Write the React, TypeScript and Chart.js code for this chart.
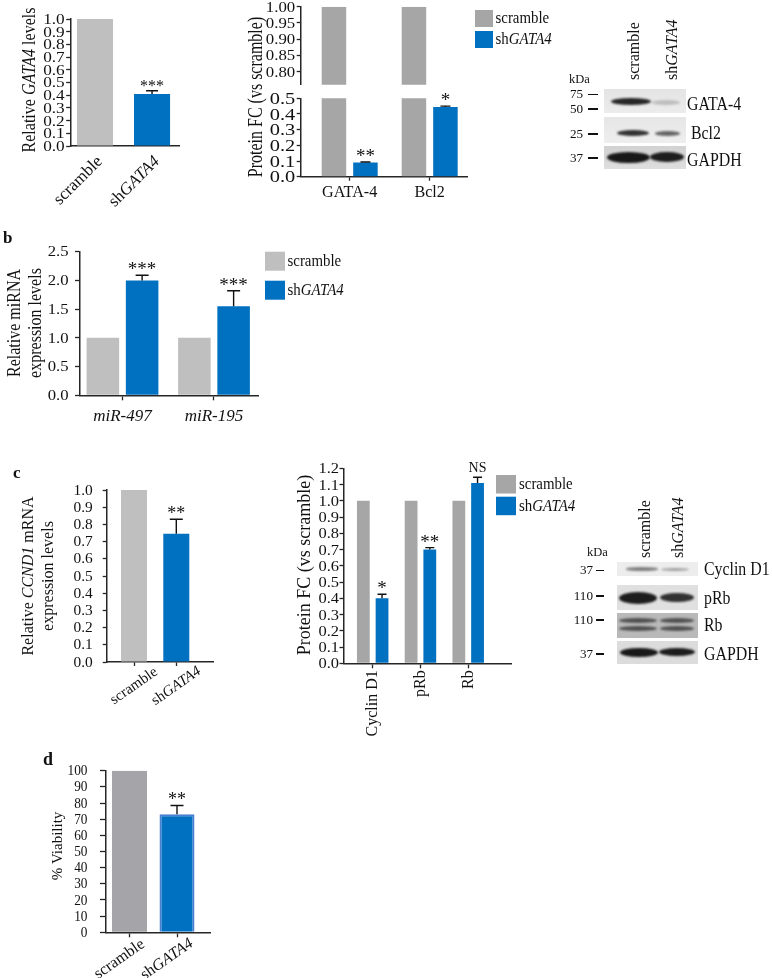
import React, { useEffect, useRef } from "react";
import { Chart, registerables } from "chart.js";

Chart.register(...registerables);

const W = 772;
const H = 978;
const SERIF = '"Liberation Serif", "Times New Roman", Times, serif';
const INK = "#111111";
const AXIS = "#262626";
const BLUE = "#0070C0";
const GRAY_L = "#BFBFBF";
const GRAY_M = "#A6A6A6";
const GRAY_D = "#A4A4A9";

// ---------------- data ----------------
// a (left): relative GATA4 mRNA
const a1Categories = ["scramble", "sh*GATA4*"];
const a1Values = [1.0, 0.41];
const a1Errors = [0, 0.025];
const a1Sig = ["", "***"];
const a1YTicks = [0, 0.1, 0.2, 0.3, 0.4, 0.5, 0.6, 0.7, 0.8, 0.9, 1.0];

// a (middle): protein fold change, broken axis
const a2Categories = ["GATA-4", "Bcl2"];
const a2Scramble = [1.0, 1.0];
const a2ShGATA4 = [0.09, 0.445];
const a2ShErrors = [0.004, 0.005];
const a2Sig = ["**", "*"];
const a2UpperTicks = [0.8, 0.85, 0.9, 0.95, 1.0];
const a2LowerTicks = [0, 0.1, 0.2, 0.3, 0.4, 0.5];

// b: miRNA expression
const bCategories = ["*miR-497*", "*miR-195*"];
const bScramble = [1.0, 1.0];
const bShGATA4 = [2.0, 1.55];
const bShErrors = [0.09, 0.27];
const bSig = ["***", "***"];
const bYTicks = [0, 0.5, 1.0, 1.5, 2.0, 2.5];

// c (left): CCND1 mRNA
const c1Categories = ["scramble", "sh*GATA4*"];
const c1Values = [1.0, 0.745];
const c1Errors = [0, 0.085];
const c1Sig = ["", "**"];
const c1YTicks = [0, 0.1, 0.2, 0.3, 0.4, 0.5, 0.6, 0.7, 0.8, 0.9, 1.0];

// c (middle): protein fold change
const c2Categories = ["Cyclin D1", "pRb", "Rb"];
const c2Scramble = [1.0, 1.0, 1.0];
const c2ShGATA4 = [0.4, 0.7, 1.11];
const c2ShErrors = [0.025, 0.012, 0.035];
const c2Sig = ["*", "**", "NS"];
const c2YTicks = [0, 0.1, 0.2, 0.3, 0.4, 0.5, 0.6, 0.7, 0.8, 0.9, 1.0, 1.1, 1.2];

// d: viability
const dCategories = ["scramble", "sh*GATA4*"];
const dValues = [100, 73];
const dErrors = [0, 5.5];
const dSig = ["", "**"];
const dYTicks = [0, 10, 20, 30, 40, 50, 60, 70, 80, 90, 100];

const legendLabels = ["scramble", "sh*GATA4*"];

// western blots (band intensity per lane: scramble, shGATA4)
const aBlotLanes = ["scramble", "sh*GATA4*"];
const aBlotProteins = ["GATA-4", "Bcl2", "GAPDH"];
const aBlotMarkers = [["75", "50"], ["25"], ["37"]];
const aBlotIntensity = [
  [0.9, 0.2],
  [0.85, 0.62],
  [0.97, 0.94],
];

const cBlotLanes = ["scramble", "sh*GATA4*"];
const cBlotProteins = ["Cyclin D1", "pRb", "Rb", "GAPDH"];
const cBlotMarkers = [["37"], ["110"], ["110"], ["37"]];
const cBlotIntensity = [
  [0.5, 0.35],
  [0.95, 0.85],
  [0.62, 0.62],
  [0.97, 0.95],
];

// ---------------- text helpers ----------------
type TextOpt = {
  size: number;
  align?: "left" | "center" | "right";
  base?: CanvasTextBaseline;
  rot?: number;
  sx?: number;
  bold?: boolean;
  plain?: boolean;
  color?: string;
  off?: number;
};

function segs(text: string, plain?: boolean) {
  if (plain) return [{ t: text, it: false }];
  return text
    .split("*")
    .map((t, i) => ({ t, it: i % 2 === 1 }))
    .filter((p) => p.t.length > 0);
}

function drawText(ctx: CanvasRenderingContext2D, text: string, x: number, y: number, o: TextOpt) {
  const parts = segs(text, o.plain);
  const font = (it: boolean) => `${it ? "italic " : ""}${o.bold ? "bold " : ""}${o.size}px ${SERIF}`;
  ctx.save();
  ctx.translate(x, y);
  ctx.scale(o.sx ?? 1, 1);
  if (o.rot) ctx.rotate((o.rot * Math.PI) / 180);
  ctx.fillStyle = o.color ?? INK;
  ctx.textBaseline = o.base ?? "alphabetic";
  ctx.textAlign = "left";
  const ws = parts.map((p) => {
    ctx.font = font(p.it);
    return ctx.measureText(p.t).width;
  });
  const total = ws.reduce((a, b) => a + b, 0);
  let cx = o.align === "center" ? -total / 2 : o.align === "right" ? -total : 0;
  parts.forEach((p, i) => {
    ctx.font = font(p.it);
    ctx.fillText(p.t, cx, o.off ?? 0);
    cx += ws[i];
  });
  ctx.restore();
}

// ---------------- chart specs ----------------
type DS = {
  data: number[];
  color: string | string[];
  border?: string | string[];
  bw?: number | number[];
  err?: number[];
  sig?: string[];
};

type Spec = {
  area: { l: number; t: number; r: number; b: number };
  xMin: number;
  xMax: number;
  cats: string[];
  catLab?: { size: number; sx?: number; rot?: number; align: "left" | "center" | "right"; dx?: number; dy: number; base: CanvasTextBaseline };
  xTickLen: number;
  xAxis: boolean;
  yMin: number;
  yMax: number;
  yTicks: number[];
  yFmt: (v: number) => string;
  yLab: { size: number; sx: number; pad: number };
  yTickLen: number;
  yTitle?: { lines: string[]; x: number; y: number; size: number; sx: number; gap: number };
  ds: DS[];
  catPct: number;
  barPct: number;
  sigSize: number;
  capW: number;
  marks: boolean;
  legend?: { x: number; y: number; w: number; h: number; step: number; tx: number; size: number; sx: number; items: { label: string; color: string }[] };
};

function decorPlugin(s: Spec) {
  return {
    id: "decor",
    afterDatasetsDraw(chart: any) {
      if (!s.marks) return;
      const ctx = chart.ctx as CanvasRenderingContext2D;
      const ys = chart.scales.y;
      s.ds.forEach((d, i) => {
        const meta = chart.getDatasetMeta(i);
        meta.data.forEach((bar: any, j: number) => {
          const e = d.err ? d.err[j] : 0;
          const top = ys.getPixelForValue(d.data[j] + e);
          if (e > 0) {
            ctx.save();
            ctx.strokeStyle = INK;
            ctx.lineWidth = 1.4;
            ctx.beginPath();
            ctx.moveTo(bar.x, bar.y);
            ctx.lineTo(bar.x, top);
            ctx.moveTo(bar.x - s.capW / 2, top);
            ctx.lineTo(bar.x + s.capW / 2, top);
            ctx.stroke();
            ctx.restore();
          }
          const sg = d.sig ? d.sig[j] : "";
          if (sg) {
            const star = /^\*+$/.test(sg);
            drawText(ctx, sg, bar.x, top - (star ? 0 : 5), {
              size: star ? s.sigSize : 14,
              align: "center",
              plain: true,
            });
          }
        });
      });
    },
    afterDraw(chart: any) {
      const ctx = chart.ctx as CanvasRenderingContext2D;
      const xs = chart.scales.x;
      const ys = chart.scales.y;
      const a = chart.chartArea;
      s.yTicks.forEach((v) =>
        drawText(ctx, s.yFmt(v), a.left - s.yTickLen - s.yLab.pad, ys.getPixelForValue(v) + s.yLab.size * 0.33, {
          size: s.yLab.size,
          sx: s.yLab.sx,
          align: "right",
          plain: true,
        })
      );
      if (s.catLab) {
        const L = s.catLab;
        s.cats.forEach((c, i) =>
          drawText(ctx, c, xs.getPixelForValue(i) + (L.dx ?? 0), a.bottom + L.dy, {
            size: L.size,
            sx: L.sx,
            rot: L.rot,
            align: L.align,
            base: L.base,
          })
        );
      }
      if (s.yTitle) {
        const T = s.yTitle;
        T.lines.forEach((ln, k) =>
          drawText(ctx, ln, T.x, T.y, {
            size: T.size,
            sx: T.sx,
            rot: -90,
            align: "center",
            base: "middle",
            off: (k - (T.lines.length - 1) / 2) * T.gap,
          })
        );
      }
      if (s.legend) {
        const L = s.legend;
        L.items.forEach((it, k) => {
          const y0 = L.y + k * L.step;
          ctx.fillStyle = it.color;
          ctx.fillRect(L.x, y0, L.w, L.h);
          drawText(ctx, it.label, L.x + L.w + L.tx, y0 + L.h / 2 + L.size * 0.3, { size: L.size, sx: L.sx });
        });
      }
    },
  };
}

function buildConfig(s: Spec): any {
  const pad = { left: s.area.l, top: s.area.t, right: W - s.area.r, bottom: H - s.area.b };
  return {
    type: "bar",
    data: {
      datasets: s.ds.map((d) => ({
        data: d.data.map((v, i) => ({ x: i, y: v })),
        backgroundColor: d.color,
        borderColor: d.border ?? "rgba(0,0,0,0)",
        borderWidth: d.bw ?? 0,
        categoryPercentage: s.catPct,
        barPercentage: s.barPct,
      })),
    },
    options: {
      responsive: false,
      animation: false,
      devicePixelRatio: 1,
      events: [],
      layout: { padding: pad },
      plugins: { legend: { display: false }, tooltip: { enabled: false }, title: { display: false } },
      scales: {
        x: {
          type: "linear",
          bounds: "data",
          offset: false,
          min: s.xMin,
          max: s.xMax,
          afterBuildTicks: (sc: any) => {
            sc.ticks = s.cats.map((_, i) => ({ value: i }));
          },
          afterFit: (sc: any) => {
            sc.height = 0;
          },
          ticks: { display: false },
          grid: {
            offset: false,
            drawOnChartArea: false,
            drawTicks: s.xTickLen > 0,
            tickLength: s.xTickLen,
            tickColor: AXIS,
            tickWidth: 1.3,
            color: AXIS,
          },
          border: { display: s.xAxis, color: AXIS, width: 1.5 },
        },
        y: {
          type: "linear",
          bounds: "data",
          min: s.yMin,
          max: s.yMax,
          afterBuildTicks: (sc: any) => {
            sc.ticks = s.yTicks.map((v) => ({ value: v }));
          },
          afterFit: (sc: any) => {
            sc.width = 0;
          },
          ticks: { display: false },
          grid: {
            drawOnChartArea: false,
            drawTicks: true,
            tickLength: s.yTickLen,
            tickColor: AXIS,
            tickWidth: 1.3,
            color: AXIS,
          },
          border: { color: AXIS, width: 1.5 },
        },
      },
    },
    plugins: [decorPlugin(s)],
  };
}

const f1 = (v: number) => v.toFixed(1);

const specs: Spec[] = [
  // a - left
  {
    area: { l: 70.7, t: 19, r: 180, b: 146 },
    xMin: -0.426,
    xMax: 1.49,
    cats: a1Categories,
    catLab: { size: 17, rot: -45, align: "right", dx: 5, dy: 13, base: "middle" },
    xTickLen: 0,
    xAxis: true,
    yMin: 0,
    yMax: 1,
    yTicks: a1YTicks,
    yFmt: f1,
    yLab: { size: 15, sx: 1.15, pad: 1.5 },
    yTickLen: 4.5,
    yTitle: { lines: ["Relative *GATA4* levels"], x: 30, y: 80, size: 16, sx: 1.15, gap: 0 },
    ds: [{ data: a1Values, color: [GRAY_L, BLUE], err: a1Errors, sig: a1Sig }],
    catPct: 1,
    barPct: 0.632,
    sigSize: 16,
    capW: 12,
    marks: true,
  },
  // a - middle, upper segment
  {
    area: { l: 300.7, t: 6.7, r: 468, b: 84.7 },
    xMin: -0.6125,
    xMax: 1.479,
    cats: a2Categories,
    xTickLen: 0,
    xAxis: false,
    yMin: 0.76,
    yMax: 1.0,
    yTicks: a2UpperTicks,
    yFmt: (v) => v.toFixed(2),
    yLab: { size: 15, sx: 1.12, pad: 1.5 },
    yTickLen: 4,
    ds: [
      { data: a2Scramble, color: GRAY_M },
      { data: a2ShGATA4, color: BLUE },
    ],
    catPct: 0.7875,
    barPct: 0.778,
    sigSize: 18,
    capW: 10,
    marks: false,
    legend: {
      x: 475,
      y: 10,
      w: 18,
      h: 17,
      step: 21,
      tx: 2.5,
      size: 16,
      sx: 0.93,
      items: [
        { label: legendLabels[0], color: GRAY_M },
        { label: legendLabels[1], color: BLUE },
      ],
    },
  },
  // a - middle, lower segment
  {
    area: { l: 300.7, t: 98.3, r: 468, b: 176.7 },
    xMin: -0.6125,
    xMax: 1.479,
    cats: a2Categories,
    catLab: { size: 17, sx: 0.95, rot: 0, align: "center", dy: 20, base: "alphabetic" },
    xTickLen: 4,
    xAxis: true,
    yMin: 0,
    yMax: 0.5,
    yTicks: a2LowerTicks,
    yFmt: f1,
    yLab: { size: 17, sx: 1.2, pad: 1.5 },
    yTickLen: 4,
    yTitle: { lines: ["Protein FC (vs scramble)"], x: 256.7, y: 97, size: 16, sx: 1.25, gap: 0 },
    ds: [
      { data: a2Scramble, color: GRAY_M },
      { data: a2ShGATA4, color: BLUE, err: a2ShErrors, sig: a2Sig },
    ],
    catPct: 0.7875,
    barPct: 0.778,
    sigSize: 19,
    capW: 10,
    marks: true,
  },
  // b
  {
    area: { l: 80, t: 251.7, r: 258, b: 395.3 },
    xMin: -0.4645,
    xMax: 1.481,
    cats: bCategories,
    catLab: { size: 17, rot: 0, align: "center", dy: 26, base: "alphabetic" },
    xTickLen: 5,
    xAxis: true,
    yMin: 0,
    yMax: 2.5,
    yTicks: bYTicks,
    yFmt: f1,
    yLab: { size: 14.5, sx: 1.15, pad: 6.5 },
    yTickLen: 5,
    yTitle: { lines: ["Relative miRNA", "expression levels"], x: 25.5, y: 323, size: 16, sx: 1.15, gap: 18 },
    ds: [
      { data: bScramble, color: GRAY_L },
      { data: bShGATA4, color: BLUE, err: bShErrors, sig: bSig },
    ],
    catPct: 0.858,
    barPct: 0.829,
    sigSize: 19,
    capW: 13,
    marks: true,
    legend: {
      x: 265,
      y: 251.7,
      w: 20,
      h: 19,
      step: 29,
      tx: 2.5,
      size: 16,
      sx: 0.93,
      items: [
        { label: legendLabels[0], color: GRAY_L },
        { label: legendLabels[1], color: BLUE },
      ],
    },
  },
  // c - left
  {
    area: { l: 106.7, t: 490, r: 213.3, b: 662 },
    xMin: -0.6454,
    xMax: 1.8747,
    cats: c1Categories,
    catLab: { size: 15, rot: -35, align: "center", dy: 24, base: "middle" },
    xTickLen: 4,
    xAxis: true,
    yMin: 0,
    yMax: 1,
    yTicks: c1YTicks,
    yFmt: f1,
    yLab: { size: 14, sx: 1.1, pad: 10 },
    yTickLen: 4,
    yTitle: { lines: ["Relative *CCND1* mRNA", "expression levels"], x: 38.5, y: 576, size: 16, sx: 1.1, gap: 17.5 },
    ds: [{ data: c1Values, color: [GRAY_L, BLUE], err: c1Errors, sig: c1Sig }],
    catPct: 1,
    barPct: 0.615,
    sigSize: 18,
    capW: 13,
    marks: true,
  },
  // c - middle
  {
    area: { l: 344, t: 468.3, r: 511.7, b: 663.3 },
    xMin: -0.601,
    xMax: 2.911,
    cats: c2Categories,
    catLab: { size: 16, sx: 1.1, rot: -90, align: "right", dy: 7, base: "middle" },
    xTickLen: 5,
    xAxis: true,
    yMin: 0,
    yMax: 1.2,
    yTicks: c2YTicks,
    yFmt: f1,
    yLab: { size: 15, sx: 1.1, pad: 0.5 },
    yTickLen: 4.5,
    yTitle: { lines: ["Protein FC (vs scramble)"], x: 305, y: 565, size: 18, sx: 1.05, gap: 0 },
    ds: [
      { data: c2Scramble, color: GRAY_M },
      { data: c2ShGATA4, color: BLUE, err: c2ShErrors, sig: c2Sig },
    ],
    catPct: 0.783,
    barPct: 0.684,
    sigSize: 19,
    capW: 9,
    marks: true,
    legend: {
      x: 496,
      y: 475,
      w: 20,
      h: 18.5,
      step: 21.7,
      tx: 3,
      size: 16,
      sx: 0.93,
      items: [
        { label: legendLabels[0], color: GRAY_M },
        { label: legendLabels[1], color: BLUE },
      ],
    },
  },
  // d
  {
    area: { l: 106, t: 770.7, r: 210, b: 932.3 },
    xMin: -0.4947,
    xMax: 1.6947,
    cats: dCategories,
    catLab: { size: 16, rot: -35, align: "center", dx: -10, dy: 27, base: "middle" },
    xTickLen: 5,
    xAxis: true,
    yMin: 0,
    yMax: 100,
    yTicks: dYTicks,
    yFmt: (v) => String(v),
    yLab: { size: 14, sx: 0.95, pad: 12.5 },
    yTickLen: 6,
    yTitle: { lines: ["% Viability"], x: 58, y: 846, size: 15, sx: 1, gap: 0 },
    ds: [{ data: dValues, color: [GRAY_D, BLUE], border: ["rgba(0,0,0,0)", "#4A80D2"], bw: [0, 2], err: dErrors, sig: dSig }],
    catPct: 1,
    barPct: 0.737,
    sigSize: 18,
    capW: 13,
    marks: true,
  },
];

function ChartLayer({ spec }: { spec: Spec }) {
  const ref = useRef<HTMLCanvasElement>(null);
  useEffect(() => {
    const chart = new Chart(ref.current as HTMLCanvasElement, buildConfig(spec));
    return () => chart.destroy();
  }, [spec]);
  return (
    <canvas
      ref={ref}
      width={W}
      height={H}
      style={{ position: "absolute", left: 0, top: 0, width: W, height: H, pointerEvents: "none" }}
    />
  );
}

// ---------------- HTML text / blot helpers ----------------
function rich(text: string) {
  return segs(text).map((p, i) => (p.it ? <i key={i}>{p.t}</i> : <span key={i}>{p.t}</span>));
}

function HText({
  x,
  y,
  text,
  size,
  align = "left",
  sx = 1,
  bold = false,
}: {
  x: number;
  y: number;
  text: string;
  size: number;
  align?: "left" | "center" | "right";
  sx?: number;
  bold?: boolean;
}) {
  const tx = align === "left" ? "0" : align === "center" ? "-50%" : "-100%";
  const origin = align === "left" ? "left" : align === "center" ? "center" : "right";
  return (
    <div
      style={{
        position: "absolute",
        left: x,
        top: y - 0.8375 * size,
        fontFamily: SERIF,
        fontSize: size,
        lineHeight: `${size}px`,
        whiteSpace: "nowrap",
        color: INK,
        fontWeight: bold ? 700 : 400,
        transform: `translateX(${tx}) scaleX(${sx})`,
        transformOrigin: `${origin} center`,
      }}
    >
      {rich(text)}
    </div>
  );
}

function VText({ cx, bottom, text, size }: { cx: number; bottom: number; text: string; size: number }) {
  return (
    <div
      style={{
        position: "absolute",
        left: cx - size / 2,
        top: bottom,
        fontFamily: SERIF,
        fontSize: size,
        lineHeight: `${size}px`,
        whiteSpace: "nowrap",
        color: INK,
        transform: "rotate(-90deg)",
        transformOrigin: "left top",
      }}
    >
      {rich(text)}
    </div>
  );
}

function Rect({ x, y, w, h, bg }: { x: number; y: number; w: number; h: number; bg: string }) {
  return <div style={{ position: "absolute", left: x, top: y, width: w, height: h, background: bg }} />;
}

function Band({ x, w, cy, h, a }: { x: number; w: number; cy: number; h: number; a: number }) {
  return (
    <div
      style={{
        position: "absolute",
        left: x,
        top: cy - h / 2,
        width: w,
        height: h,
        borderRadius: "50%",
        background: `rgba(18,18,18,${a})`,
        filter: "blur(1.1px)",
      }}
    />
  );
}

type BlotRow = {
  top: number;
  h: number;
  bg: string;
  markerY: number[];
  labelX: number;
  labelY: number;
  bands: { x: number; w: number; cy: number; h: number; lane: number }[];
};

function Blot({
  lanes,
  laneX,
  laneBottom,
  kda,
  boxL,
  boxW,
  rows,
  proteins,
  markers,
  intensity,
  numRight,
  dash,
}: {
  lanes: string[];
  laneX: number[];
  laneBottom: number;
  kda: { x: number; y: number };
  boxL: number;
  boxW: number;
  rows: BlotRow[];
  proteins: string[];
  markers: string[][];
  intensity: number[][];
  numRight: number;
  dash: [number, number];
}) {
  return (
    <>
      {lanes.map((l, i) => (
        <VText key={"l" + i} cx={laneX[i]} bottom={laneBottom} text={l} size={16} />
      ))}
      <HText x={kda.x} y={kda.y} text="kDa" size={12.5} />
      {rows.map((r, i) => (
        <React.Fragment key={"r" + i}>
          <Rect x={boxL} y={r.top} w={boxW} h={r.h} bg={r.bg} />
          {r.bands.map((b, k) => (
            <Band key={k} x={b.x} w={b.w} cy={b.cy} h={b.h} a={intensity[i][b.lane]} />
          ))}
          {markers[i].map((m, k) => (
            <React.Fragment key={"m" + k}>
              <HText x={numRight} y={r.markerY[k] + 4} text={m} size={12.5} align="right" sx={1.05} />
              <Rect x={dash[0]} y={r.markerY[k] - 0.75} w={dash[1] - dash[0]} h={1.5} bg={INK} />
            </React.Fragment>
          ))}
          <HText x={r.labelX} y={r.labelY} text={proteins[i]} size={18} sx={0.88} />
        </React.Fragment>
      ))}
    </>
  );
}

const aBlotRows: BlotRow[] = [
  {
    top: 89.3,
    h: 24,
    bg: "linear-gradient(#e4e4e4, #ececec)",
    markerY: [94.3, 109],
    labelX: 687,
    labelY: 110.5,
    bands: [
      { x: 611, w: 40, cy: 101, h: 7, lane: 0 },
      { x: 652, w: 28, cy: 102, h: 5, lane: 1 },
    ],
  },
  {
    top: 117.3,
    h: 25.5,
    bg: "linear-gradient(#e6e6e6, #eeeeee)",
    markerY: [134],
    labelX: 691,
    labelY: 139.5,
    bands: [
      { x: 617, w: 32, cy: 133, h: 6, lane: 0 },
      { x: 655, w: 25, cy: 133, h: 5, lane: 1 },
    ],
  },
  {
    top: 146,
    h: 23.3,
    bg: "linear-gradient(#d2d2d2, #dedede)",
    markerY: [158],
    labelX: 687,
    labelY: 166.5,
    bands: [
      { x: 607, w: 43, cy: 157, h: 11, lane: 0 },
      { x: 650, w: 34, cy: 157, h: 10, lane: 1 },
    ],
  },
];

const cBlotRows: BlotRow[] = [
  {
    top: 561.7,
    h: 14.3,
    bg: "#ededed",
    markerY: [570.7],
    labelX: 704,
    labelY: 575,
    bands: [
      { x: 626, w: 32, cy: 569, h: 3.5, lane: 0 },
      { x: 661, w: 28, cy: 569.5, h: 3, lane: 1 },
    ],
  },
  {
    top: 585,
    h: 25,
    bg: "#e0e0e0",
    markerY: [596],
    labelX: 704,
    labelY: 604,
    bands: [
      { x: 619, w: 38, cy: 597.5, h: 12, lane: 0 },
      { x: 660, w: 34, cy: 597.5, h: 9, lane: 1 },
    ],
  },
  {
    top: 613,
    h: 25,
    bg: "#b9b9b9",
    markerY: [620],
    labelX: 704,
    labelY: 631,
    bands: [
      { x: 619, w: 38, cy: 620, h: 5, lane: 0 },
      { x: 619, w: 38, cy: 628, h: 5, lane: 0 },
      { x: 660, w: 34, cy: 620, h: 5, lane: 1 },
      { x: 660, w: 34, cy: 628, h: 5, lane: 1 },
    ],
  },
  {
    top: 641,
    h: 23,
    bg: "#dcdcdc",
    markerY: [654],
    labelX: 704,
    labelY: 660,
    bands: [
      { x: 620, w: 38, cy: 652, h: 9, lane: 0 },
      { x: 659, w: 36, cy: 652, h: 8, lane: 1 },
    ],
  },
];

export default function App() {
  return (
    <div style={{ position: "absolute", left: 0, top: 0, width: W, height: H, overflow: "hidden", background: "#fff" }}>
      {specs.map((s, i) => (
        <ChartLayer key={i} spec={s} />
      ))}
      <Blot
        lanes={aBlotLanes}
        laneX={[634, 672]}
        laneBottom={80}
        kda={{ x: 569, y: 83 }}
        boxL={604}
        boxW={82}
        rows={aBlotRows}
        proteins={aBlotProteins}
        markers={aBlotMarkers}
        intensity={aBlotIntensity}
        numRight={583}
        dash={[588, 598]}
      />
      <Blot
        lanes={cBlotLanes}
        laneX={[645, 678]}
        laneBottom={558}
        kda={{ x: 587, y: 556 }}
        boxL={616.7}
        boxW={81.6}
        rows={cBlotRows}
        proteins={cBlotProteins}
        markers={cBlotMarkers}
        intensity={cBlotIntensity}
        numRight={593}
        dash={[596, 604]}
      />
      <HText x={3} y={243} text="b" size={17} bold />
      <HText x={13} y={478} text="c" size={17} bold />
      <HText x={43} y={765} text="d" size={18} bold />
    </div>
  );
}
